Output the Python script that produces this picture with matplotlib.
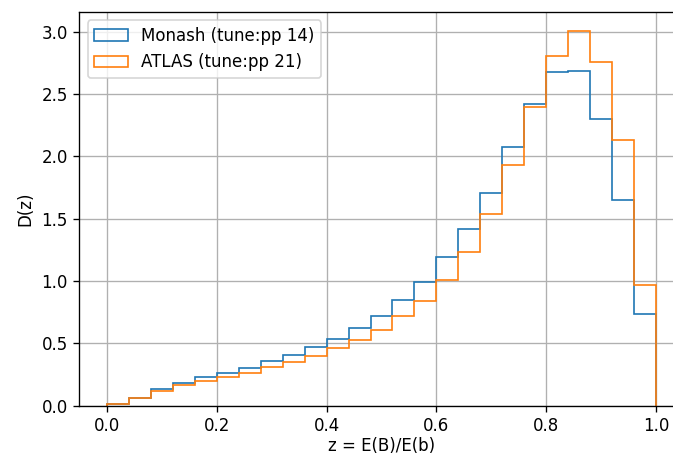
import numpy as np
import matplotlib
matplotlib.use("Agg")
import matplotlib.pyplot as plt

# bin edges for z = E(B)/E(b)
edges = np.linspace(0.0, 1.0, 26)

monash = [0.01, 0.065, 0.135, 0.185, 0.23, 0.265, 0.30, 0.355, 0.41, 0.47,
          0.535, 0.62, 0.72, 0.85, 0.995, 1.19, 1.42, 1.706, 2.075, 2.417,
          2.679, 2.684, 2.30, 1.652, 0.735]
atlas = [0.01, 0.06, 0.115, 0.165, 0.195, 0.23, 0.265, 0.31, 0.35, 0.40,
         0.465, 0.525, 0.61, 0.72, 0.84, 1.01, 1.23, 1.535, 1.928, 2.393,
         2.805, 3.008, 2.76, 2.134, 0.965]
labels = ["Monash (tune:pp 14)", "ATLAS (tune:pp 21)"]

centers = 0.5 * (edges[:-1] + edges[1:])

fig = plt.figure(figsize=(673 / 120, 457 / 120), dpi=120)
ax = fig.add_axes([0.1181, 0.1123, 0.8975, 0.8615])

ax.hist(centers, bins=edges, weights=monash, histtype="step", label=labels[0])
ax.hist(centers, bins=edges, weights=atlas, histtype="step", label=labels[1])

# pull the label up a touch so it isn't clipped at the bottom edge
ax.set_xlabel("z = E(B)/E(b)", labelpad=1)
ax.set_ylabel("D(z)")
ax.grid(True)
ax.legend(loc="upper left")

fig.savefig("out.png", dpi=120)
